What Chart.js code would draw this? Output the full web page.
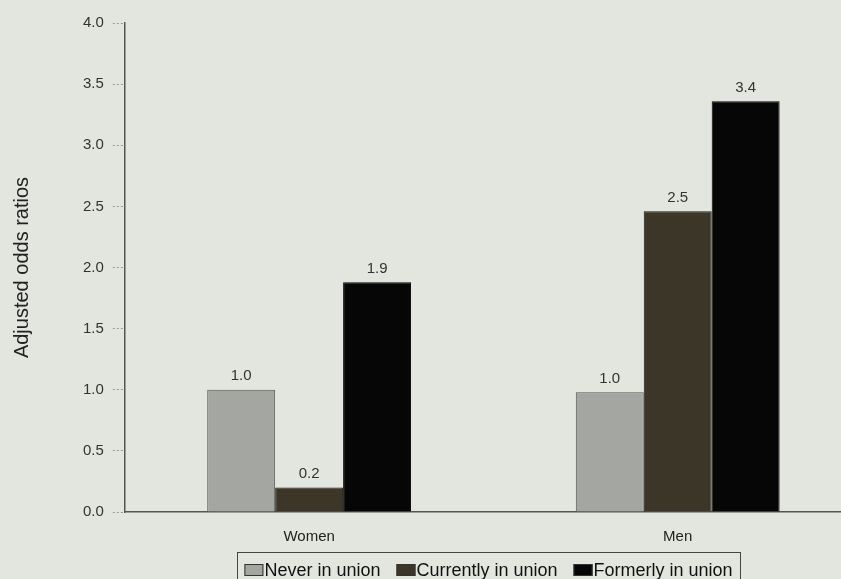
<!DOCTYPE html>
<html>
<head>
<meta charset="utf-8">
<script src="https://cdn.jsdelivr.net/npm/chart.js@4"></script>
<style>
    html, body { margin: 0; padding: 0; background: #e3e5df; overflow: hidden; }
    .wrap { width: 841px; height: 579px; overflow: hidden; position: relative; }
    .inner { width: 870px; height: 600px; }
</style>
</head>
<body>
<div class="wrap"><div class="inner"><canvas id="orChart" width="870" height="600"></canvas></div></div>
<script>
const groups = ['Women', 'Men'];
const neverUnion = [1.0, 0.98];
const currentlyUnion = [0.2, 2.46];
const formerlyUnion = [1.88, 3.36];
const yTicks = [0, 0.5, 1, 1.5, 2, 2.5, 3, 3.5, 4];

const FONT = '"Liberation Sans", Arial, sans-serif';

// подписи значений над столбцами
const valueLabels = {
    id: 'valueLabels',
    afterDatasetsDraw(chart) {
        const ctx = chart.ctx;
        ctx.save();
        ctx.font = '15px ' + FONT;
        ctx.fillStyle = '#333';
        ctx.textAlign = 'center';
        ctx.textBaseline = 'bottom';
        chart.data.datasets.forEach((ds, i) => {
            chart.getDatasetMeta(i).data.forEach((bar, j) => {
                ctx.fillText(ds.data[j].toFixed(1), bar.x, bar.y - 6);
            });
        });
        ctx.restore();
    }
};

// легенда в рамке (плотная, как в исходном рисунке)
const framedLegend = {
    id: 'framedLegend',
    afterDraw(chart) {
        const ctx = chart.ctx;
        const sets = chart.data.datasets;
        const boxW = 19, boxH = 12, gap = 1, itemGap = 16;
        ctx.save();
        ctx.font = '18px ' + FONT;
        const widths = sets.map(ds => ctx.measureText(ds.label).width);
        const total = widths.reduce((a, w) => a + boxW + gap + w, 0) + itemGap * (sets.length - 1);
        const frameLeft = 237, frameRight = 740, frameTop = 552;
        let x = (frameLeft + frameRight) / 2 - total / 2;
        const midY = 570;
        ctx.strokeStyle = '#444';
        ctx.lineWidth = 1;
        ctx.strokeRect(frameLeft + 0.5, frameTop + 0.5, frameRight - frameLeft, 60);
        sets.forEach((ds, i) => {
            ctx.fillStyle = ds.backgroundColor;
            ctx.fillRect(x, midY - boxH / 2, boxW, boxH);
            ctx.strokeStyle = '#333';
            ctx.strokeRect(x + 0.5, midY - boxH / 2 + 0.5, boxW - 1, boxH - 1);
            ctx.fillStyle = '#111';
            ctx.textAlign = 'left';
            ctx.textBaseline = 'middle';
            ctx.fillText(ds.label, x + boxW + gap, midY + 1);
            x += boxW + gap + widths[i] + itemGap;
        });
        ctx.restore();
    }
};

new Chart(document.getElementById('orChart').getContext('2d'), {
    type: 'bar',
    data: {
        labels: groups,
        datasets: [
            { label: 'Never in union', data: neverUnion, backgroundColor: '#a4a6a1', borderColor: '#555', borderWidth: 1 },
            { label: 'Currently in union', data: currentlyUnion, backgroundColor: '#3b3627', borderColor: '#1a1a14', borderWidth: 1 },
            { label: 'Formerly in union', data: formerlyUnion, backgroundColor: '#060606', borderColor: '#060606', borderWidth: 1 }
        ]
    },
    options: {
        responsive: false,
        animation: false,
        devicePixelRatio: 1,
        datasets: { bar: { barPercentage: 1, categoryPercentage: 0.553 } },
        layout: { padding: { left: 6, top: 23, right: 8, bottom: 58 } },
        plugins: {
            tooltip: { enabled: false },
            legend: { display: false }
        },
        scales: {
            x: {
                grid: { display: false },
                border: { color: '#555', width: 1.5 },
                afterFit: (axis) => { axis.height = 30; },
                ticks: { color: '#222', padding: 8, font: { size: 15, family: FONT } }
            },
            y: {
                min: 0,
                max: 4,
                afterBuildTicks: (axis) => { axis.ticks = yTicks.map(v => ({ value: v })); },
                grid: { drawOnChartArea: false, drawTicks: true, tickLength: 12, color: '#999', tickBorderDash: [2, 2] },
                border: { color: '#555', width: 1.5 },
                ticks: { color: '#333', padding: 9, font: { size: 15, family: FONT }, callback: (v) => Number(v).toFixed(1) },
                title: { display: true, text: 'Adjusted odds ratios', color: '#222', padding: { top: 4, bottom: 40 }, font: { size: 20, family: FONT } }
            }
        }
    },
    plugins: [valueLabels, framedLegend]
});
</script>
</body>
</html>
